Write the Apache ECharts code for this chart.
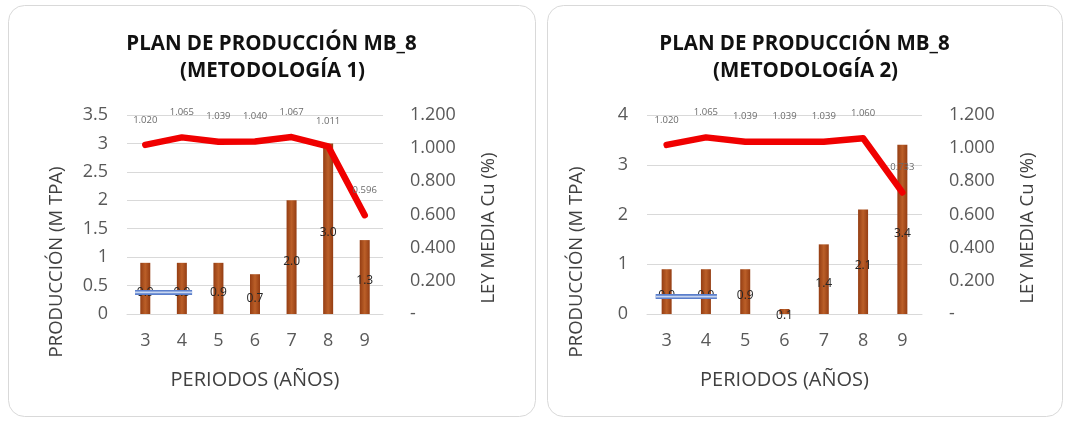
<!DOCTYPE html>
<html>
<head>
<meta charset="utf-8">
<script src="https://cdn.jsdelivr.net/npm/echarts@6/dist/echarts.min.js"></script>
<style>
  html, body { margin: 0; padding: 0; background: #ffffff; }
  #chart { width: 1069px; height: 423px; }
</style>
</head>
<body>
<div id="chart"></div>
<script>
// Production plan MB_8: two methodologies side by side
const periods = ['3', '4', '5', '6', '7', '8', '9'];

// Methodology 1
const produccion1 = [0.9, 0.9, 0.9, 0.7, 2.0, 3.0, 1.3];   // M TPA
const leyCu1      = [1.020, 1.065, 1.039, 1.040, 1.067, 1.011, 0.596]; // %
const marca1      = [0.38, 0.38, null, null, null, null, null];

// Methodology 2
const produccion2 = [0.9, 0.9, 0.9, 0.1, 1.4, 2.1, 3.4];
const leyCu2      = [1.020, 1.065, 1.039, 1.039, 1.039, 1.060, 0.733];
const marca2      = [0.35, 0.35, null, null, null, null, null];

const titulos = [
  ['PLAN DE PRODUCCIÓN MB_8', '(METODOLOGÍA 1)'],
  ['PLAN DE PRODUCCIÓN MB_8', '(METODOLOGÍA 2)']
];
const ejeX = 'PERIODOS (AÑOS)';
const ejeY1 = 'PRODUCCIÓN (M TPA)';
const ejeY2 = 'LEY MEDIA Cu (%)';
const ticksLey = { min: 0, max: 1.2, interval: 0.2 };
const ticksProd = [{ min: 0, max: 3.5, interval: 0.5 }, { min: 0, max: 4, interval: 1 }];

const FONT = "'Open Sans', 'Liberation Sans', sans-serif";
const GRAY = '#595959';

const chart = echarts.init(document.getElementById('chart'), null, { renderer: 'canvas' });

const panels = [
  { grid: { left: 127, top: 115, width: 256, height: 199 }, card: { x: 8, w: 527 } },
  { grid: { left: 647, top: 115, width: 275, height: 199 }, card: { x: 547, w: 515 } }
];
const prodData = [produccion1, produccion2];
const leyData = [leyCu1, leyCu2];
const marcaData = [marca1, marca2];

const barColor = {
  type: 'linear', x: 0, y: 0, x2: 1, y2: 0,
  colorStops: [
    { offset: 0, color: '#943d13' },
    { offset: 0.5, color: '#bb5f28' },
    { offset: 1, color: '#943d13' }
  ]
};

// segments of the blue marker series: [startIndex, endIndex, value]
function segments(arr) {
  const out = [];
  for (let i = 0; i < arr.length - 1; i++) {
    if (arr[i] != null && arr[i + 1] != null) out.push([i, i + 1, arr[i]]);
  }
  return out;
}

function label(x, y, text, font, fill, rotation) {
  return {
    type: 'text', x, y, rotation: rotation || 0,
    style: {
      text, font, fill,
      align: 'center', verticalAlign: 'middle',
      textAlign: 'center', textVerticalAlign: 'middle'
    }
  };
}

const grids = [], xAxes = [], yAxes = [], series = [], graphics = [];

panels.forEach((p, k) => {
  grids.push(p.grid);
  xAxes.push({
    type: 'category', gridIndex: k, data: periods,
    axisLine: { lineStyle: { color: '#d9d9d9', width: 1 } },
    axisTick: { show: false },
    axisLabel: { color: GRAY, fontFamily: FONT, fontSize: 18, margin: 18 }
  });
  yAxes.push({
    type: 'value', gridIndex: k, position: 'left',
    min: ticksProd[k].min, max: ticksProd[k].max, interval: ticksProd[k].interval,
    axisLine: { show: false }, axisTick: { show: false },
    splitLine: { lineStyle: { color: '#d9d9d9', width: 1 } },
    axisLabel: { color: GRAY, fontFamily: FONT, fontSize: 18, margin: 19 }
  });
  yAxes.push({
    type: 'value', gridIndex: k, position: 'right',
    min: ticksLey.min, max: ticksLey.max, interval: ticksLey.interval,
    axisLine: { show: false }, axisTick: { show: false },
    splitLine: { show: false },
    axisLabel: {
      color: GRAY, fontFamily: FONT, fontSize: 18, margin: 27,
      formatter: v => (v === 0 ? '-' : v.toFixed(3))
    }
  });

  series.push({
    type: 'bar', xAxisIndex: k, yAxisIndex: 2 * k,
    data: prodData[k], barWidth: 10,
    itemStyle: { color: barColor },
    label: {
      show: true, position: 'inside', offset: [0, 4],
      color: '#262626', fontFamily: FONT, fontSize: 12,
      formatter: d => d.value.toFixed(1)
    },
    z: 2
  });

  series.push({
    type: 'custom', xAxisIndex: k, yAxisIndex: 2 * k,
    data: segments(marcaData[k]),
    encode: { x: [0, 1], y: 2 },
    renderItem: (params, api) => {
      const a = api.coord([api.value(0), api.value(2)]);
      const b = api.coord([api.value(1), api.value(2)]);
      const ext = api.size([1, 0])[0] * 0.28;
      const x1 = a[0] - ext, x2 = b[0] + ext;
      return {
        type: 'group',
        children: [
          { type: 'line', shape: { x1, y1: a[1], x2, y2: b[1] },
            style: { stroke: '#5b7fcc', lineWidth: 5 } },
          { type: 'line', shape: { x1, y1: a[1], x2, y2: b[1] },
            style: { stroke: '#c8d6f0', lineWidth: 1.6 } }
        ]
      };
    },
    z: 3
  });

  series.push({
    type: 'line', xAxisIndex: k, yAxisIndex: 2 * k + 1,
    data: leyData[k], symbol: 'circle', symbolSize: 2, showSymbol: true,
    showAllSymbol: true, clip: false,
    itemStyle: { color: 'rgba(240,0,0,0)' },
    lineStyle: { color: '#f00000', width: 6.5, join: 'round', cap: 'round' },
    label: {
      show: true, position: 'top', distance: 19,
      color: '#6b6b6b', fontFamily: FONT, fontSize: 9.5,
      formatter: d => d.value.toFixed(3)
    },
    labelLayout: { hideOverlap: false },
    z: 4
  });

  const g = p.grid;
  const cx = g.left + g.width / 2;
  const midCard = p.card.x + p.card.w / 2;

  // card frame
  graphics.push({
    type: 'rect', silent: true, z: -10,
    shape: { x: p.card.x + 0.5, y: 5.5, width: p.card.w, height: 411, r: 16 },
    style: { fill: '#ffffff', stroke: '#d9d9d9', lineWidth: 1 }
  });
  // title
  graphics.push(label(midCard, 44, titulos[k][0], "bold 20.5px " + FONT, '#111111'));
  graphics.push(label(midCard + 1, 71, titulos[k][1], "bold 20.5px " + FONT, '#111111'));
  // axis names
  graphics.push(label(cx, 380, ejeX, "20px " + FONT, '#404040'));
  graphics.push(label(g.left - 70, 262, ejeY1, "18.5px " + FONT, '#404040', Math.PI / 2));
  graphics.push(label(g.left + g.width + 106, 228, ejeY2, "18.5px " + FONT, '#404040', Math.PI / 2));
});

chart.setOption({
  animation: false,
  backgroundColor: '#ffffff',
  textStyle: { fontFamily: FONT },
  grid: grids,
  xAxis: xAxes,
  yAxis: yAxes,
  series: series,
  graphic: graphics
});
</script>
</body>
</html>
